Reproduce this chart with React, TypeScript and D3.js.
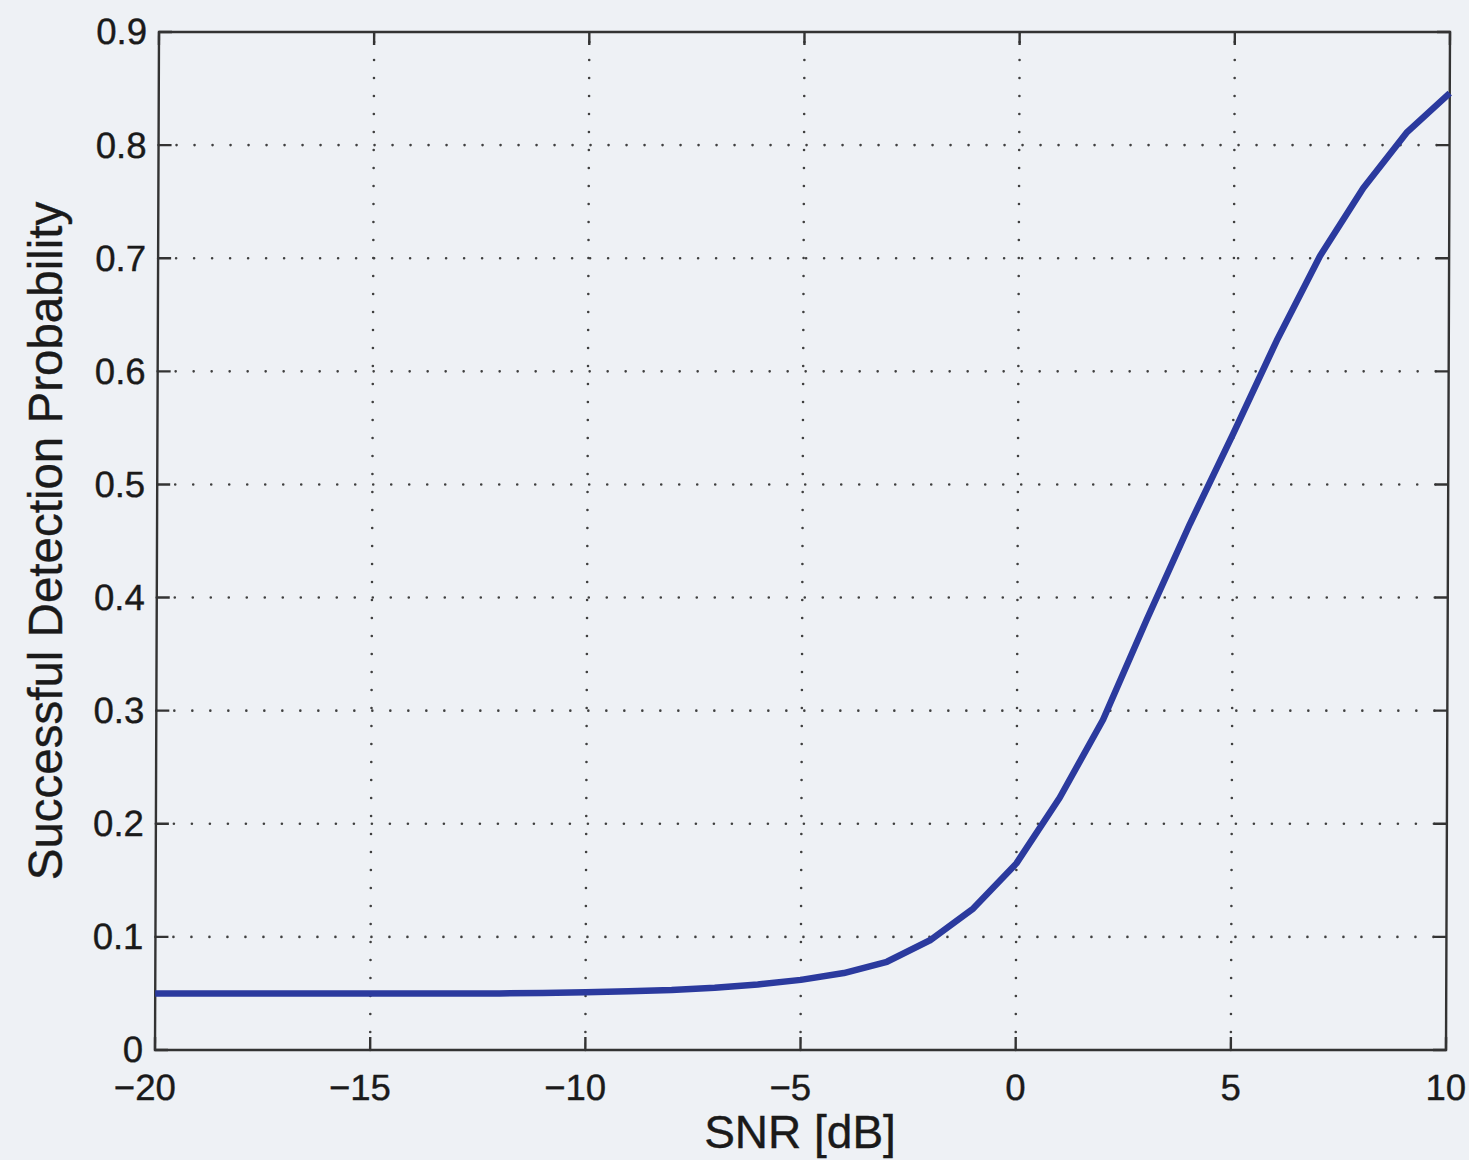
import React, { useEffect, useRef } from "react";
import * as d3 from "d3";

const snrDb = [-20, -19, -18, -17, -16, -15, -14, -13, -12, -11, -10, -9, -8, -7, -6, -5, -4, -3, -2, -1, 0, 1, 2, 3, 4, 5, 6, 7, 8, 9, 10];
const detectionProb = [0.05, 0.05, 0.05, 0.05, 0.05, 0.05, 0.05, 0.05, 0.05, 0.0505, 0.051, 0.052, 0.053, 0.055, 0.058, 0.062, 0.068, 0.078, 0.097, 0.125, 0.165, 0.223, 0.292, 0.38, 0.465, 0.545, 0.627, 0.702, 0.762, 0.811, 0.846];
const xTicks = [-20, -15, -10, -5, 0, 5, 10];
const yTicks = [0, 0.1, 0.2, 0.3, 0.4, 0.5, 0.6, 0.7, 0.8, 0.9];

const W = 1469;
const H = 1160;
const M = { left: 155, right: 1446, top: 32, bottom: 1050 };

export default function App() {
  const ref = useRef<SVGSVGElement | null>(null);

  useEffect(() => {
    const svg = d3.select(ref.current);
    svg.selectAll("*").remove();

    const x = d3.scaleLinear().domain([-20, 10]).range([M.left, M.right]);
    const y = d3.scaleLinear().domain([0, 0.9]).range([M.bottom, M.top]);

    svg.append("rect").attr("width", W).attr("height", H).attr("fill", "#eef1f5");

    const g = svg
      .append("g")
      .attr("transform", `translate(0,${M.bottom}) skewX(-0.225) translate(0,${-M.bottom})`);

    const grid = g.append("g").attr("stroke", "#3f3f3f").attr("stroke-width", 2.6)
      .attr("stroke-linecap", "round").attr("stroke-dasharray", "0 18").attr("fill", "none");
    xTicks.slice(1, -1).forEach((t) => {
      grid.append("line").attr("x1", x(t)).attr("x2", x(t)).attr("y1", M.bottom).attr("y2", M.top);
    });
    yTicks.slice(1, -1).forEach((t) => {
      grid.append("line").attr("x1", M.left).attr("x2", M.right).attr("y1", y(t)).attr("y2", y(t));
    });

    const tl = 13;
    const ticks = g.append("g").attr("stroke", "#333").attr("stroke-width", 2.4);
    xTicks.forEach((t) => {
      ticks.append("line").attr("x1", x(t)).attr("x2", x(t)).attr("y1", M.bottom).attr("y2", M.bottom - tl);
      ticks.append("line").attr("x1", x(t)).attr("x2", x(t)).attr("y1", M.top).attr("y2", M.top + tl);
    });
    yTicks.forEach((t) => {
      ticks.append("line").attr("x1", M.left).attr("x2", M.left + tl).attr("y1", y(t)).attr("y2", y(t));
      ticks.append("line").attr("x1", M.right).attr("x2", M.right - tl).attr("y1", y(t)).attr("y2", y(t));
    });

    g.append("rect")
      .attr("x", M.left).attr("y", M.top)
      .attr("width", M.right - M.left).attr("height", M.bottom - M.top)
      .attr("fill", "none").attr("stroke", "#333").attr("stroke-width", 2.4);

    const line = d3.line<number>()
      .x((_, i) => x(snrDb[i]))
      .y((d) => y(d));
    g.append("path")
      .datum(detectionProb)
      .attr("d", line)
      .attr("fill", "none")
      .attr("stroke", "#2b3a9e")
      .attr("stroke-width", 6.5)
      .attr("stroke-linejoin", "round");

    const font = "'Liberation Sans', Arial, Helvetica, sans-serif";
    const fmtX = (t: number) => (t < 0 ? "\u2212" + Math.abs(t) : String(t));
    g.append("g").selectAll("text").data(xTicks).join("text")
      .attr("x", (d) => x(d) - (d < 0 ? 10 : 0)).attr("y", M.bottom + 50)
      .attr("text-anchor", "middle")
      .attr("font-family", font).attr("font-size", 36.5).attr("fill", "#1a1a1a")
      .attr("stroke", "#1a1a1a").attr("stroke-width", 0.4)
      .text((d) => fmtX(d));

    g.append("g").selectAll("text").data(yTicks).join("text")
      .attr("x", M.left - 12).attr("y", (d) => y(d))
      .attr("dy", "0.34em")
      .attr("text-anchor", "end")
      .attr("font-family", font).attr("font-size", 36.5).attr("fill", "#1a1a1a")
      .attr("stroke", "#1a1a1a").attr("stroke-width", 0.4)
      .text((d) => (d === 0 ? "0" : d.toFixed(1)));

    svg.append("text")
      .attr("x", 800).attr("y", 1148)
      .attr("text-anchor", "middle")
      .attr("font-family", font).attr("font-size", 46).attr("fill", "#1a1a1a")
      .attr("stroke", "#1a1a1a").attr("stroke-width", 0.4)
      .text("SNR [dB]");

    svg.append("text")
      .attr("transform", `translate(62,${(M.top + M.bottom) / 2}) rotate(-90)`)
      .attr("text-anchor", "middle")
      .attr("font-family", font).attr("font-size", 47.5).attr("fill", "#1a1a1a")
      .attr("stroke", "#1a1a1a").attr("stroke-width", 0.4)
      .text("Successful Detection Probability");
  }, []);

  return (
    <svg
      ref={ref}
      width={W}
      height={H}
      style={{ position: "absolute", left: 0, top: 0, display: "block" }}
    />
  );
}
